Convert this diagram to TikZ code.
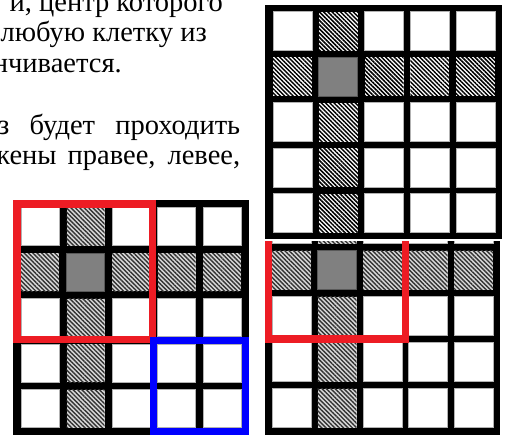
\documentclass[tikz,border=0pt]{standalone}
\usepackage{fontspec}
\setmainfont{Liberation Serif}
\usetikzlibrary{patterns.meta}
\definecolor{boxred}{RGB}{237,28,36}
\definecolor{boxblue}{RGB}{0,0,255}
\tikzset{
  whitecell/.style={fill=white, draw=black!30, line width=1pt},
  hatchsharp/.style={preaction={fill=white}, pattern={Lines[angle=-45,distance=3pt,line width=1.5pt]}, pattern color=black},
  hatchsoft/.style={preaction={fill=black!15}, pattern={Lines[angle=-45,distance=3.1pt,line width=1.4pt]}, pattern color=black!80},
  centercell/.style={fill=black!50, draw=black!65, line width=1pt},
  gridframe/.style={fill=black},
  redframe/.style={draw=boxred, line width=7.5pt},
  blueframe/.style={draw=boxblue, line width=7pt},
  txt/.style={inner sep=0pt, font=\fontsize{28.5}{30}\selectfont}
}
\newcommand\mygrid[6]{%
  \foreach \r in {0,...,4}{\foreach \c in {0,...,4}{%
    \pgfmathsetmacro\cx{#1+\c*#3}%
    \pgfmathsetmacro\cy{#2+\r*#4}%
    \pgfmathtruncatemacro\kind{((\r==1)&&(\c==1)) ? 2 : (((\r==1)||(\c==1)) ? 1 : 0)}%
    \ifcase\kind
      \path[whitecell] (\cx,\cy) rectangle ++(#5,#5);
    \or
      \path[#6] (\cx,\cy) rectangle ++(#5,#5);
    \or
      \path[centercell] (\cx,\cy) rectangle ++(#5,#5);
    \fi
  }}%
}
\begin{document}
\begin{tikzpicture}[x=1pt,y=-1pt]
\useasboundingbox (0,0) rectangle (507,435);
\clip (0,0) rectangle (507,435);
% text
\node[txt, anchor=base east] (t1) at (223,12) {и, центр которого};
\node[txt, anchor=base east] (t2) at (207,42) {любую клетку из};
\node[txt, anchor=base east] (t3) at (122,73) {нчивается.};
\node[txt, anchor=base west] (t4) at (-2,135) {\makebox[242pt][s]{з будет проходить}};
\node[txt, anchor=base west] (t5) at (-10,165) {\makebox[250pt][s]{жены правее, левее,}};
% left grid
\path[gridframe] (13,200) rectangle (249,437);
\mygrid{21}{208}{45.5}{45.5}{38}{hatchsoft}
\draw[redframe] (17,204) rectangle (152.5,339.5);
\draw[blueframe] (153.5,340.5) rectangle (245,431.5);
% right bottom grid (upper part hidden)
\begin{scope}
  \clip (260,241.5) rectangle (507,440);
  \path[gridframe] (265,197) rectangle (500,437);
  \mygrid{272}{205}{45.5}{46}{39}{hatchsoft}
  \draw[redframe] (268.5,201) rectangle (405.5,339);
\end{scope}
% right top grid
\path[gridframe] (265,5) rectangle (502,239.5);
\mygrid{273}{12}{45.75}{45.5}{39}{hatchsharp}
\end{tikzpicture}
\end{document}
